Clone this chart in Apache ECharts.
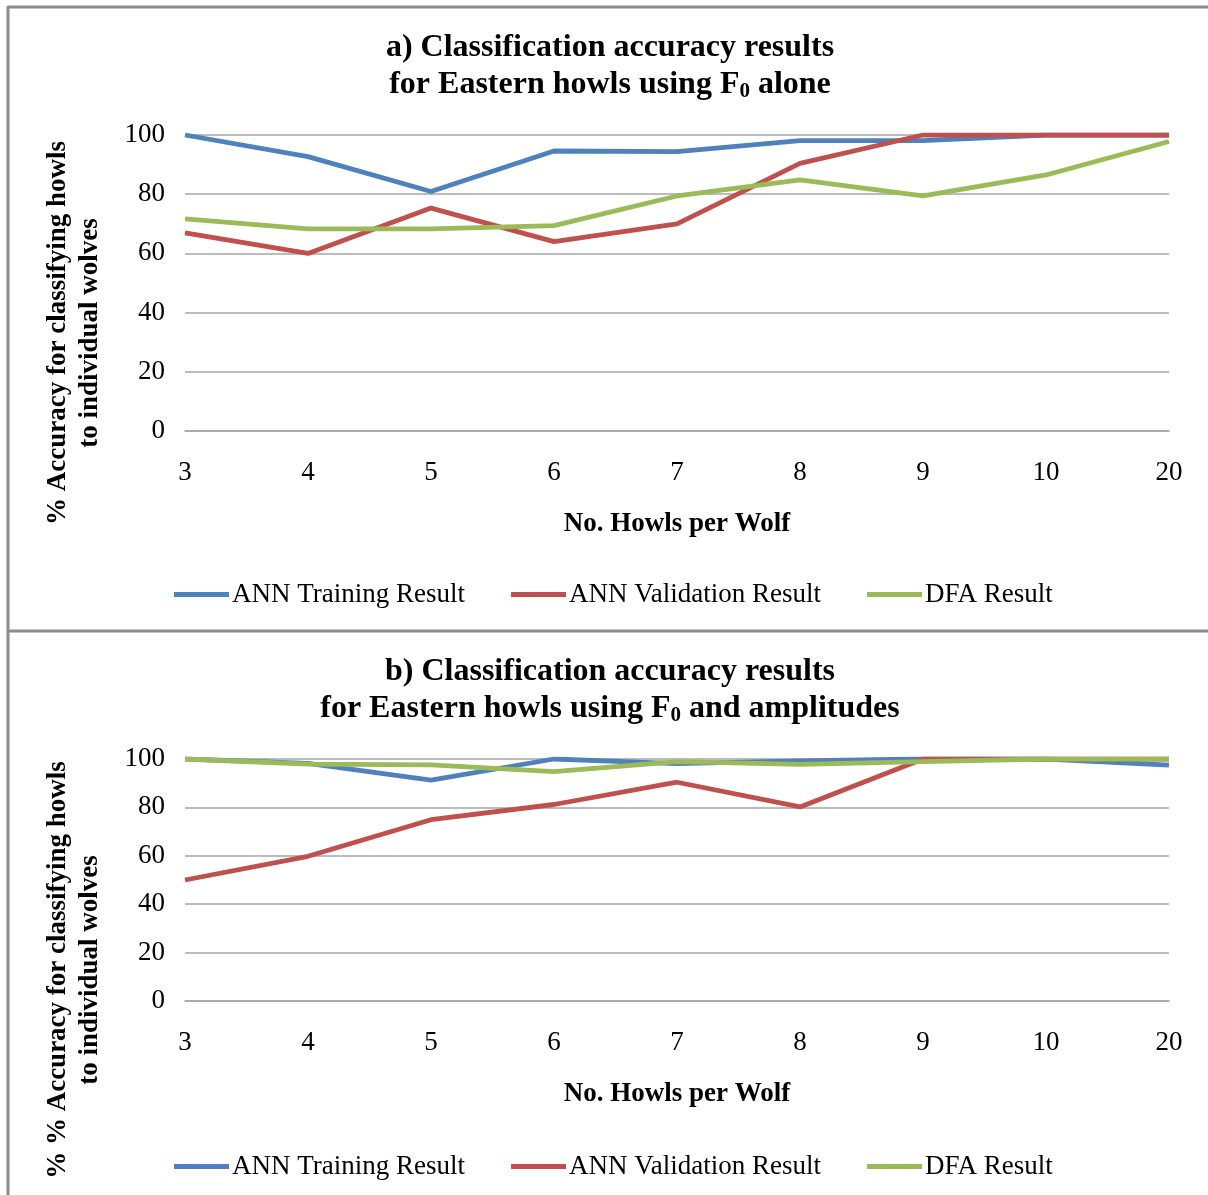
<!DOCTYPE html>
<html>
<head>
<meta charset="utf-8">
<script src="https://cdn.jsdelivr.net/npm/echarts@6/dist/echarts.min.js"></script>
<style>
  html, body { margin: 0; padding: 0; background: #fff; }
  #chart { width: 1208px; height: 1195px; }
</style>
</head>
<body>
<div id="chart"></div>
<script>
// Number of howls per wolf (category axis)
const howlCounts = ['3', '4', '5', '6', '7', '8', '9', '10', '20'];

// a) F0 alone
const trainF0 = [100, 92.7, 80.9, 94.6, 94.4, 98.1, 98.1, 100, 100];
const validF0 = [66.9, 60.0, 75.3, 64.0, 70.0, 90.4, 100, 100, 100];
const dfaF0 = [71.7, 68.3, 68.3, 69.4, 79.4, 84.8, 79.4, 86.5, 97.8];

// b) F0 and amplitudes
const trainAmp = [100, 98.2, 91.3, 100, 98.1, 99.2, 100, 100, 97.5];
const validAmp = [50.0, 59.8, 74.9, 81.2, 90.4, 80.2, 100, 100, 100];
const dfaAmp = [100, 97.9, 97.6, 94.8, 98.9, 97.8, 98.9, 100, 100];

const yTicks = [0, 20, 40, 60, 80, 100];
const seriesNames = ['ANN Training Result', 'ANN Validation Result', 'DFA Result'];
const colors = ['#4F81BD', '#C0504D', '#9BBB59'];

const serif = '"Liberation Serif", "Times New Roman", serif';
const gridGray = '#a6a6a6';
const frameGray = '#8c8c8c';

function xAxisFor(gridIndex) {
  return {
    type: 'category', gridIndex, data: howlCounts, boundaryGap: false,
    axisLine: { show: true, lineStyle: { color: gridGray, width: 1.5 } },
    axisTick: { show: false },
    axisLabel: { margin: 28, fontFamily: serif, fontSize: 27, color: '#000' },
    name: 'No. Howls per Wolf', nameLocation: 'middle', nameGap: 80,
    nameTextStyle: { fontFamily: serif, fontSize: 27, fontWeight: 'bold', color: '#000' }
  };
}
function yAxisFor(gridIndex) {
  return {
    type: 'value', gridIndex, min: yTicks[0], max: yTicks[yTicks.length - 1], interval: 20,
    axisLine: { show: false }, axisTick: { show: false },
    axisLabel: { margin: 20, fontFamily: serif, fontSize: 27, color: '#000' },
    splitLine: { show: true, lineStyle: { color: gridGray, width: 1.5 } }
  };
}
function lineSeries(name, data, idx, gridIdx) {
  return {
    type: 'line', name, data, xAxisIndex: gridIdx, yAxisIndex: gridIdx,
    showSymbol: false, symbol: 'none', color: colors[idx],
    lineStyle: { width: 4.8, color: colors[idx] }, z: 2 + idx
  };
}
function legendFor(top) {
  return {
    top, left: 169, data: seriesNames, icon: 'rect', itemWidth: 55, itemHeight: 5,
    itemGap: 46,
    textStyle: { fontFamily: serif, fontSize: 27, color: '#000', padding: [0, 0, 0, -2] }
  };
}
function titleLines(line1, line2Rich, y1, y2) {
  const rich = {
    t: { fontFamily: serif, fontSize: 32, fontWeight: 'bold', fill: '#000' },
    s: { fontFamily: serif, fontSize: 21, fontWeight: 'bold', fill: '#000', padding: [14, 0, 0, 0] }
  };
  return [
    { type: 'text', x: 610, y: y1, style: { text: line1, font: 'bold 32px ' + serif, fill: '#000', align: 'center', verticalAlign: 'middle' } },
    { type: 'text', x: 610, y: y2, style: { text: line2Rich, rich, align: 'center', verticalAlign: 'middle' } }
  ];
}
function yTitle(text, cy) {
  return {
    type: 'text', x: 74, y: cy, rotation: Math.PI / 2,
    style: { text, font: 'bold 27px ' + serif, fill: '#000', align: 'center', verticalAlign: 'middle', lineHeight: 32 }
  };
}

const option = {
  animation: false,
  backgroundColor: '#fff',
  grid: [
    { left: 185, right: 39, top: 135, height: 296 },
    { left: 185, right: 39, top: 759, height: 242 }
  ],
  xAxis: [xAxisFor(0), xAxisFor(1)],
  yAxis: [yAxisFor(0), yAxisFor(1)],
  legend: [legendFor(576), legendFor(1148)],
  series: [
    lineSeries(seriesNames[0], trainF0, 0, 0),
    lineSeries(seriesNames[1], validF0, 1, 0),
    lineSeries(seriesNames[2], dfaF0, 2, 0),
    lineSeries(seriesNames[0], trainAmp, 0, 1),
    lineSeries(seriesNames[1], validAmp, 1, 1),
    lineSeries(seriesNames[2], dfaAmp, 2, 1)
  ],
  graphic: [
    // frame lines
    { type: 'line', shape: { x1: 8, y1: 7, x2: 1208, y2: 7 }, style: { stroke: frameGray, lineWidth: 3 } },
    { type: 'line', shape: { x1: 8, y1: 6, x2: 8, y2: 1195 }, style: { stroke: frameGray, lineWidth: 3 } },
    { type: 'line', shape: { x1: 8, y1: 631, x2: 1208, y2: 631 }, style: { stroke: frameGray, lineWidth: 3 } },
    ...titleLines('a) Classification accuracy results', '{t|for Eastern howls using F}{s|0}{t| alone}', 48, 85),
    ...titleLines('b) Classification accuracy results', '{t|for Eastern howls using F}{s|0}{t| and amplitudes}', 672, 709),
    yTitle('% Accuracy for classifying howls\nto individual wolves', 333),
    yTitle('% % Accuracy for classifying howls\nto individual wolves', 970)
  ]
};

const chart = echarts.init(document.getElementById('chart'), null, { renderer: 'canvas' });
chart.setOption(option);
</script>
</body>
</html>
